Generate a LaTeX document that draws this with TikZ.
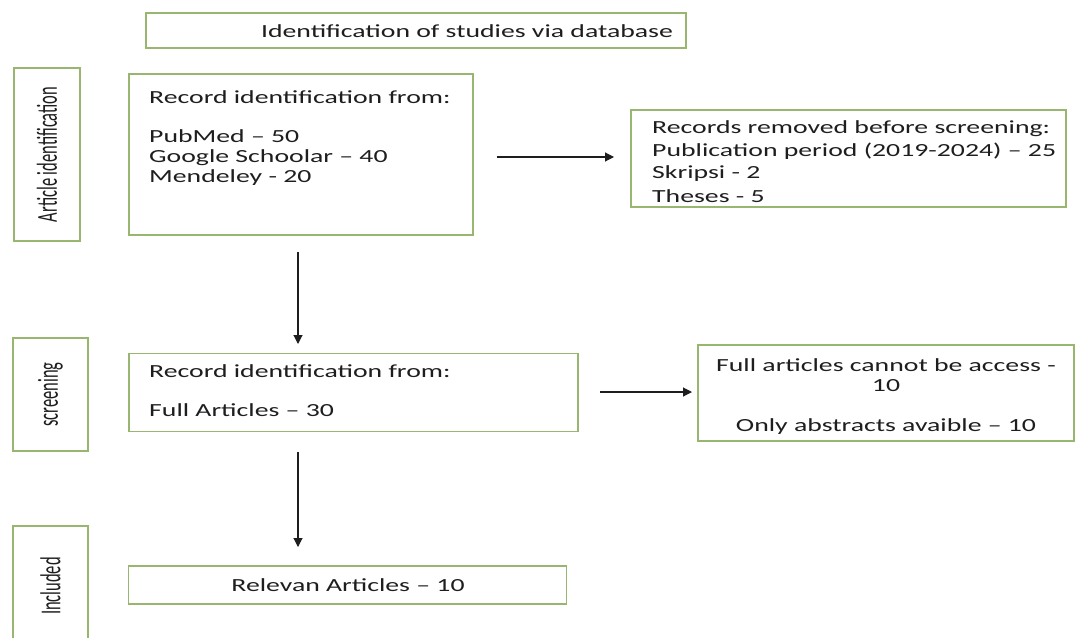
\documentclass[tikz,border=0pt]{standalone}
\usepackage{fontspec}
\setmainfont{Carlito}
\newfontfamily\widefont{Carlito}[FakeStretch=1.5]
\usetikzlibrary{arrows.meta}
\definecolor{boxgreen}{RGB}{152,182,112}
\definecolor{ink}{RGB}{30,30,30}
\tikzset{
  box/.style={draw=boxgreen, line width=1.7pt, fill=white, inner sep=0pt},
  txt/.style={font=\widefont\fontsize{18.5}{20}\selectfont, text=ink, inner sep=0pt, anchor=base west},
  ctxt/.style={txt, anchor=base},
  side/.style={font=\fontsize{16.5}{18}\selectfont, text=ink, inner sep=0pt, rotate=90},
  arr/.style={-{Triangle[length=9pt,width=9pt]}, line width=1.1pt, draw=ink}
}
\newcommand{\tallx}[1]{\scalebox{1}[1.75]{#1}}
\begin{document}
\begin{tikzpicture}[x=1pt,y=-1pt]
\useasboundingbox[fill=white] (0,0) rectangle (1075,637);
% boxes
\node[box, minimum width=540pt, minimum height=35pt] (top) at (416,30.5) {};
\node[box, minimum width=66pt, minimum height=173pt] (s1) at (47,154.5) {};
\node[box, minimum width=344pt, minimum height=161pt] (b1) at (301,154.5) {};
\node[box, minimum width=435pt, minimum height=97pt] (r1) at (848.5,158.5) {};
\node[box, minimum width=75pt, minimum height=113pt] (s2) at (50.5,394.5) {};
\node[box, minimum width=449pt, minimum height=78pt] (b2) at (353.5,392.5) {};
\node[box, minimum width=376pt, minimum height=96pt] (r2) at (886,393) {};
\node[box, minimum width=75pt, minimum height=120pt] (s3) at (50.5,586) {};
\node[box, minimum width=438pt, minimum height=38pt] (b3) at (347.5,585) {};
% texts
\node[ctxt] (ttop) at (467,37) {Identification of studies via database};
\node[side] (ts1) at (s1.center) {\tallx{Article identification}};
\node[side] (ts2) at (s2.center) {\tallx{screening}};
\node[side] (ts3) at (s3.center) {\tallx{Included}};
\node[txt] (b1l1) at (149,103) {Record identification from:};
\node[txt] (b1l2) at (149,142) {PubMed – 50};
\node[txt] (b1l3) at (149,162) {Google Schoolar – 40};
\node[txt] (b1l4) at (149,182) {Mendeley - 20};
\node[txt] (r1l1) at (652,133) {Records removed before screening:};
\node[txt] (r1l2) at (652,156) {Publication period (2019-2024) – 25};
\node[txt] (r1l3) at (652,178) {Skripsi - 2};
\node[txt] (r1l4) at (652,202) {Theses - 5};
\node[txt] (b2l1) at (149,377) {Record identification from:};
\node[txt] (b2l2) at (149,416) {Full Articles – 30};
\node[ctxt] (r2l1) at (886,371) {Full articles cannot be access -};
\node[ctxt] (r2l2) at (886,391) {10};
\node[ctxt] (r2l3) at (886,431) {Only abstracts avaible – 10};
\node[ctxt] (b3l1) at (348,591) {Relevan Articles – 10};
% arrows
\coordinate (h1s) at (497,157);
\coordinate (h1e) at (614,157);
\coordinate (v1s) at (298,252);
\coordinate (v1e) at (298,344);
\coordinate (h2s) at (600,392);
\coordinate (h2e) at (692,392);
\coordinate (v2s) at (298,452);
\coordinate (v2e) at (298,547);
\draw[arr] (h1s) -- (h1e);
\draw[arr] (v1s) -- (v1e);
\draw[arr] (h2s) -- (h2e);
\draw[arr] (v2s) -- (v2e);
\end{tikzpicture}
\end{document}
